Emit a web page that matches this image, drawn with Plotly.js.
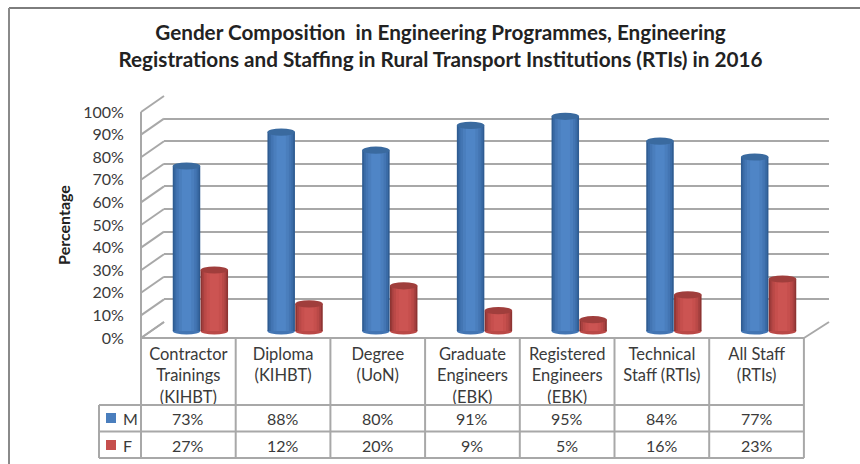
<!DOCTYPE html>
<html><head><meta charset="utf-8">
<script src="https://cdn.plot.ly/plotly-3.0.1.min.js"></script>
<style>html,body{margin:0;padding:0;background:#fff}#c{width:860px;height:464px}</style>
</head><body><div id="c"></div>
<script>
const titleLines = ['Gender Composition  in Engineering Programmes, Engineering','Registrations and Staffing in Rural Transport Institutions (RTIs) in 2016'];
const categories = ['Contractor<br>Trainings<br>(KIHBT)','Diploma<br>(KIHBT)','Degree<br>(UoN)','Graduate<br>Engineers<br>(EBK)','Registered<br>Engineers<br>(EBK)','Technical<br>Staff (RTIs)','All Staff<br>(RTIs)'];
const male = [73,88,80,91,95,84,77];
const female = [27,12,20,9,5,16,23];
const yTicks = [0,10,20,30,40,50,60,70,80,90,100];
const blueShades = ['#2f5c92','#3a6ba6','#4375b3','#4a7ebd','#4f85c6'];
const redShades = ['#8e3432','#a84140','#ba4947','#c64f4d','#cc5452'];
const blueCap = '#3a6a9f', redCap = '#a03e3c';
const shadeWidths = [1,0.88,0.74,0.56,0.34];

const W=860,H=464, FONT='Lato, "Open Sans", sans-serif', TXT='#3a3a3a', GRID='#a8a8a8';
const px=x=>x/W, py=y=>1-y/H;
const catStep=94.7, barW=27.5/catStep, off=13.9/catStep;
const capR=3.6/2.26;
const line=(x0,y0,x1,y1,c=GRID,w=2)=>({type:'line',xref:'paper',yref:'paper',x0:px(x0),y0:py(y0),x1:px(x1),y1:py(y1),line:{color:c,width:w}});

// invisible anchors so the wall and the front axes are drawn
const anchor=(xa,ya)=>({type:'scatter',mode:'markers',xaxis:xa,yaxis:ya,x:[0],y:[0],marker:{opacity:0,size:1},showlegend:false,hoverinfo:'skip'});
const traces=[anchor('x','y'),anchor('x3','y3')];
[[male,-off,blueShades,'M'],[female,off,redShades,'F']].forEach(([vals,d,shades,name])=>{
  shades.forEach((col,k)=>traces.push({type:'bar',name,xaxis:'x2',yaxis:'y2',
    x:vals.map((_,i)=>i+d),y:vals,width:vals.map(()=>barW*shadeWidths[k]),
    marker:{color:col,line:{width:0}},showlegend:false,hoverinfo:'y'}));
});

const shapes=[];
// frame
shapes.push(line(9,8,860,8,'#7d7d7d',2),line(9,8,9,464,'#8a8a8a',2));
// wall: left vertical and side ticks
shapes.push(line(141,112,141,338),line(141,338,164,322));
yTicks.forEach(t=>{const y=338-2.26*t;shapes.push(line(141,y,164,y-16));});
shapes.push(line(804,338,829,322));
// table
const colX=i=>141+catStep*i;
[338,405,431.5,458].forEach((y,i)=>shapes.push(line(i?99:141,y,804,y)));
for(let i=0;i<=7;i++)shapes.push(line(colX(i),338,colX(i),458));
shapes.push(line(99,405,99,458));
// legend keys
const key=(y0,c)=>({type:'rect',xref:'paper',yref:'paper',x0:px(106),x1:px(116),y0:py(y0),y1:py(y0+10),fillcolor:c,line:{width:0}});
shapes.push(key(413,'#4a7ebd'),key(440,'#c64f4d'));
// cylinder caps, placed from the data through the bar axes
[[male,-off,blueCap,blueShades[2]],[female,off,redCap,redShades[2]]].forEach(([vals,d,cap,base])=>{
  vals.forEach((v,i)=>{
    const x0=i+d-barW/2,x1=i+d+barW/2;
    shapes.push({type:'circle',xref:'x2',yref:'y2',layer:'below',x0,x1,y0:-capR,y1:capR,fillcolor:base,line:{width:0}});
    shapes.push({type:'circle',xref:'x2',yref:'y2',layer:'above',x0,x1,y0:v-capR,y1:v+capR,fillcolor:cap,line:{width:0}});
  });
});

const annotations=[];
const cell=(text,x,y,size=16,anchor='center')=>annotations.push({xref:'paper',yref:'paper',x:px(x),y:py(y),text,showarrow:false,xanchor:anchor,yanchor:'middle',font:{family:FONT,size,color:TXT}});
male.forEach((v,i)=>cell(v+'%',colX(i)+catStep/2,418));
female.forEach((v,i)=>cell(v+'%',colX(i)+catStep/2,445));
cell('M',121,418,16,'left');cell('F',121,445,16,'left');

const hid={showgrid:false,zeroline:false,showticklabels:false,ticks:'',showline:false};
const layout={width:W,height:H,margin:{l:0,r:0,t:0,b:0,pad:0},paper_bgcolor:'#fff',plot_bgcolor:'rgba(0,0,0,0)',
  barmode:'overlay',showlegend:false,shapes,annotations,
  title:{text:titleLines.join('<br>'),x:440.5/W,xanchor:'center',y:py(40),yanchor:'middle',font:{family:FONT,size:20.7,color:'#222',weight:700}},
  // back wall with its gridlines
  xaxis:{...hid,domain:[px(164),px(829)],range:[0,1],anchor:'y',fixedrange:true},
  yaxis:{...hid,domain:[py(322),py(96)],range:[0,100],anchor:'x',tickvals:yTicks,showgrid:true,gridcolor:GRID,gridwidth:2,fixedrange:true},
  // bars
  xaxis2:{...hid,domain:[px(141),px(829)],range:[(141-200.4)/catStep,(829-200.4)/catStep],anchor:'y2',fixedrange:true},
  yaxis2:{...hid,domain:[py(342.3),py(105)],range:[-5,100],anchor:'x2',fixedrange:true},
  // front axes: percentages and data-table header
  xaxis3:{showgrid:false,zeroline:false,showline:false,domain:[px(141),px(804)],range:[-0.5,6.5],anchor:'y3',tickvals:categories.map((_,i)=>i),ticktext:categories,ticks:'outside',ticklen:1,tickcolor:'rgba(0,0,0,0)',tickfont:{family:FONT,size:16.5,color:TXT},tickangle:0,fixedrange:true},
  yaxis3:{showgrid:false,zeroline:false,showline:false,domain:[py(338),py(112)],range:[0,100],anchor:'x3',tickvals:yTicks,ticktext:yTicks.map(t=>t+'%'),ticks:'outside',ticklen:13,tickcolor:'rgba(0,0,0,0)',tickfont:{family:FONT,size:16,color:TXT},fixedrange:true,
    title:{text:'Percentage',standoff:8,font:{family:FONT,size:16,color:'#222',weight:700}}}
};
Plotly.newPlot('c',traces,layout,{staticPlot:true,displayModeBar:false});
</script></body></html>
